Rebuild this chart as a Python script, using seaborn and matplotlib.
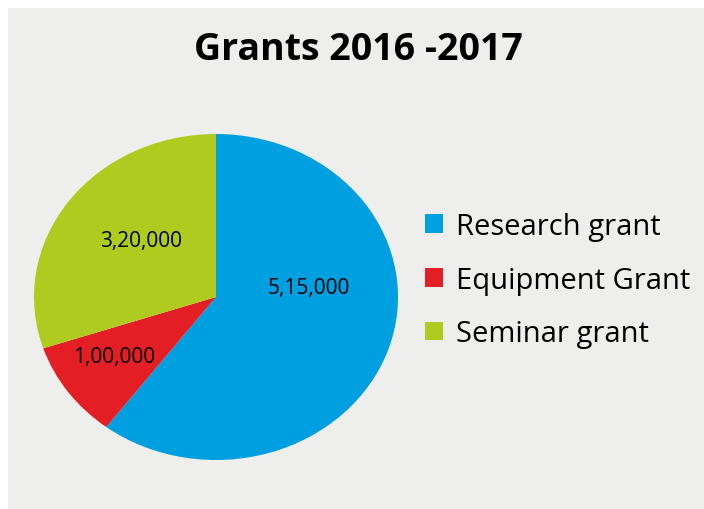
import seaborn as sns
import matplotlib.pyplot as plt
from matplotlib.patches import Rectangle

# data
categories = ['Research grant', 'Equipment Grant', 'Seminar grant']
value_labels = ['5,15,000', '1,00,000', '3,20,000']
# wedge shares as drawn in the picture (percent of the circle)
shares = [60.3, 9.6, 30.1]
colors = ['#009fe0', '#e31e25', '#b0cb1f']

sns.set_style('white')
plt.rcParams['font.family'] = ['Open Sans', 'DejaVu Sans']
plt.rcParams['text.color'] = 'black'

fig = plt.figure(figsize=(7.04, 5.10), dpi=100, facecolor='#eeeeec')
# white margins on the left and top
fig.patches.append(Rectangle((0, 0), 8/704, 1, transform=fig.transFigure,
                             facecolor='white', edgecolor='none', zorder=-1))
fig.patches.append(Rectangle((0, 1 - 9/510), 1, 9/510, transform=fig.transFigure,
                             facecolor='white', edgecolor='none', zorder=-1))

ax = fig.add_axes([34/704, 49/510, 364/704, 326/510])
wedges, _ = ax.pie(shares, colors=colors, startangle=90, counterclock=False,
                   wedgeprops=dict(linewidth=0))
ax.set_aspect('auto')
ax.set_xlim(-1, 1)
ax.set_ylim(-1, 1)
ax.axis('off')

# label positions (Excel "best fit")
label_pos = [(0.511, 0.061), (-0.560, -0.362), (-0.412, 0.344)]
for (lx, ly), txt in zip(label_pos, value_labels):
    ax.text(lx, ly, txt, ha='center', va='center', fontsize=15, color='black')

fig.text(358/704, 1 - 50/510, 'Grants 2016 -2017', ha='center', va='center',
         fontsize=27, fontweight='bold', color='black')

fig.legend(wedges, categories, loc='center left', bbox_to_anchor=(425/704, 1 - 281/510),
           frameon=False, fontsize=21, handlelength=0.62, handleheight=0.62,
           handletextpad=0.45, labelspacing=0.85, borderpad=0, borderaxespad=0)

fig.savefig('out.png', dpi=100, facecolor=fig.get_facecolor())
